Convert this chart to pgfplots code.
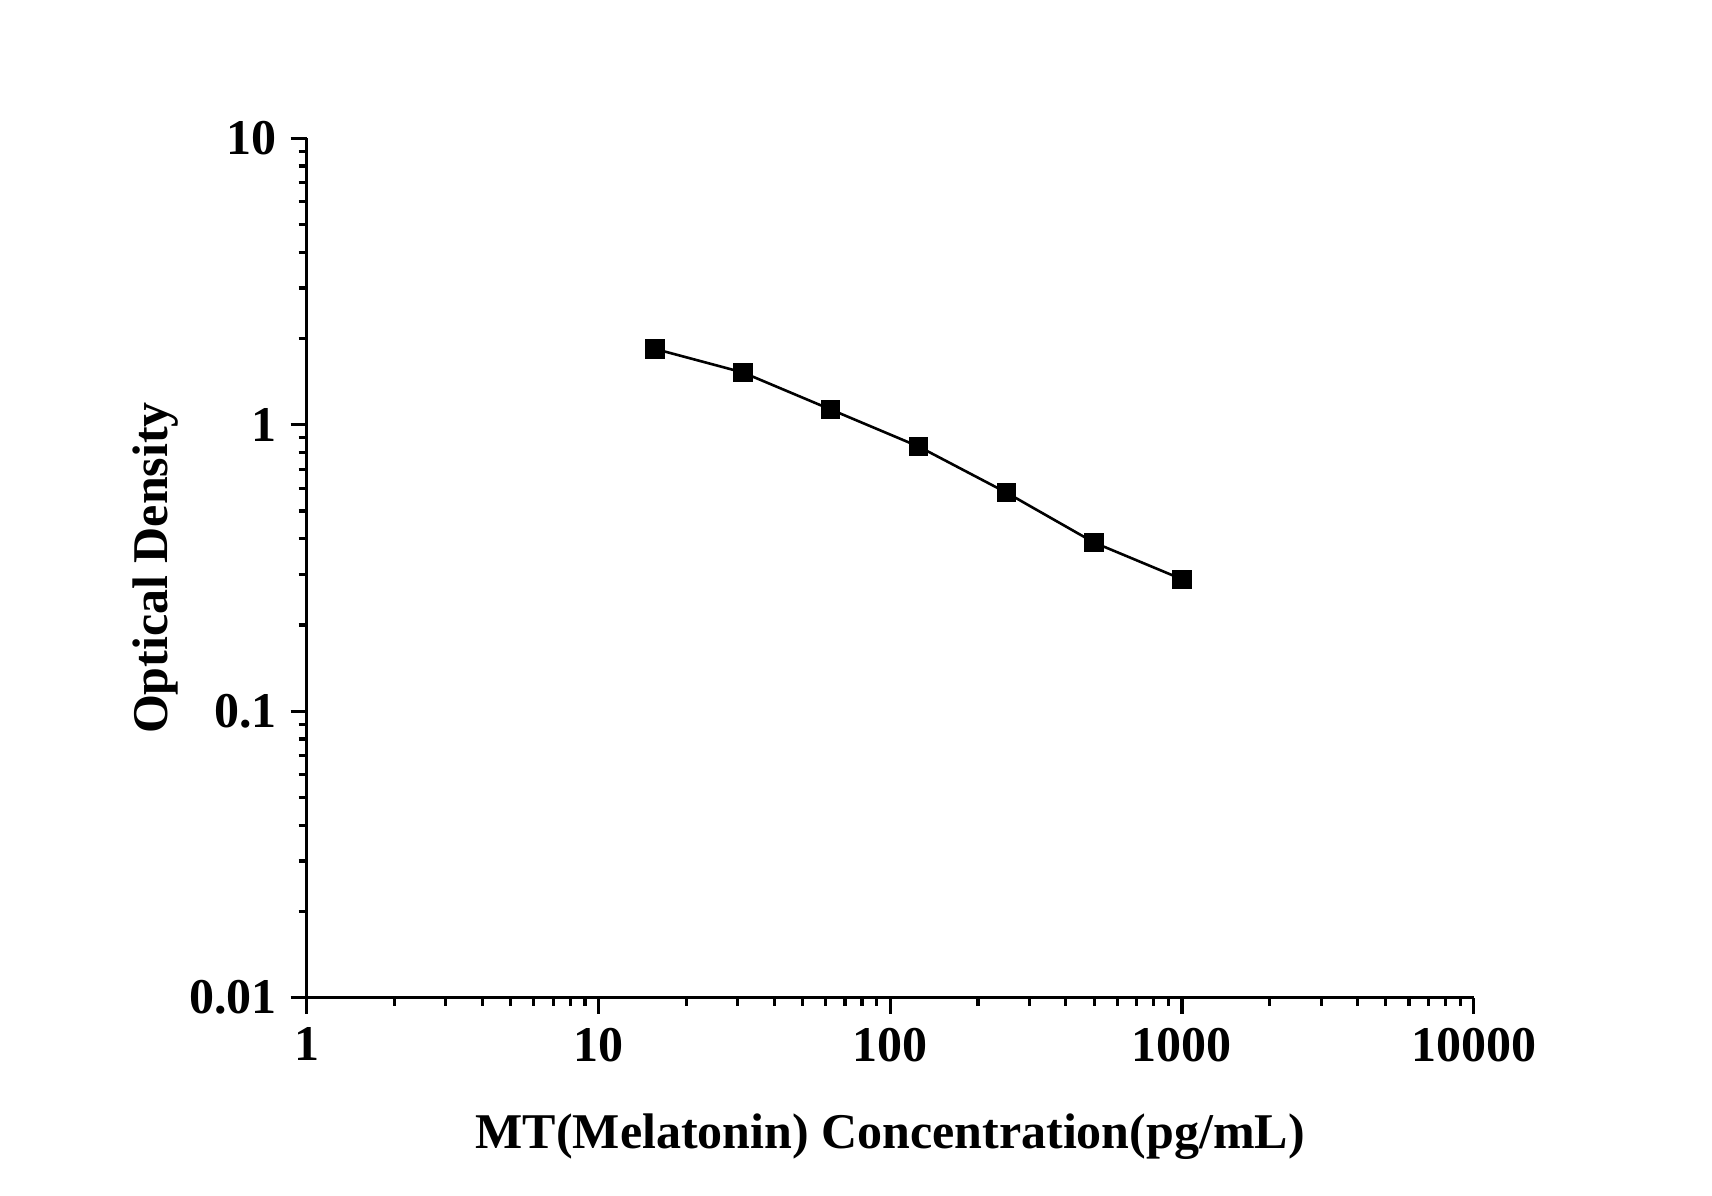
\documentclass[border=0pt]{standalone}
\usepackage{pgfplots}
\pgfplotsset{compat=1.18}
\usepackage{fontspec}
\setmainfont{Liberation Serif}
\begin{document}
\begin{tikzpicture}
\path[use as bounding box] (-76.675pt,-49.575pt) rectangle (351.325pt,249.425pt);
\begin{axis}[
  at={(0,0)}, anchor=south west,
  scale only axis,
  width=291.75pt, height=214.85pt,
  xmode=log, ymode=log,
  xmin=1, xmax=10000, ymin=0.01, ymax=10,
  axis lines*=left,
  axis line style={line width=0.8pt},
  tick align=outside,
  major tick length=4pt, minor tick length=2pt,
  every tick/.style={black, line width=0.8pt},
  xtick={1,10,100,1000,10000},
  xticklabels={1,10,100,1000,10000},
  ytick={0.01,0.1,1,10},
  yticklabels={0.01,0.1,1,10},
  ticklabel style={font=\fontsize{12.5}{15}\selectfont\bfseries},
  xlabel={MT(Melatonin) Concentration(pg/mL)},
  ylabel={Optical Density},
  label style={font=\fontsize{12.5}{15}\selectfont\bfseries},
  xlabel style={at={(axis description cs:0.5,-0.175)}, anchor=base},
  ylabel style={at={(axis description cs:-0.119,0.5)}, anchor=base, rotate=0},
  clip=false,
]
\addplot[black, line width=0.65pt, mark=square*, mark size=2.1pt, mark options={solid, fill=black}]
coordinates {
(15.625,1.84) (31.25,1.523) (62.5,1.131) (125,0.840) (250,0.580) (500,0.388) (1000,0.289)
};
\end{axis}
\end{tikzpicture}
\end{document}
